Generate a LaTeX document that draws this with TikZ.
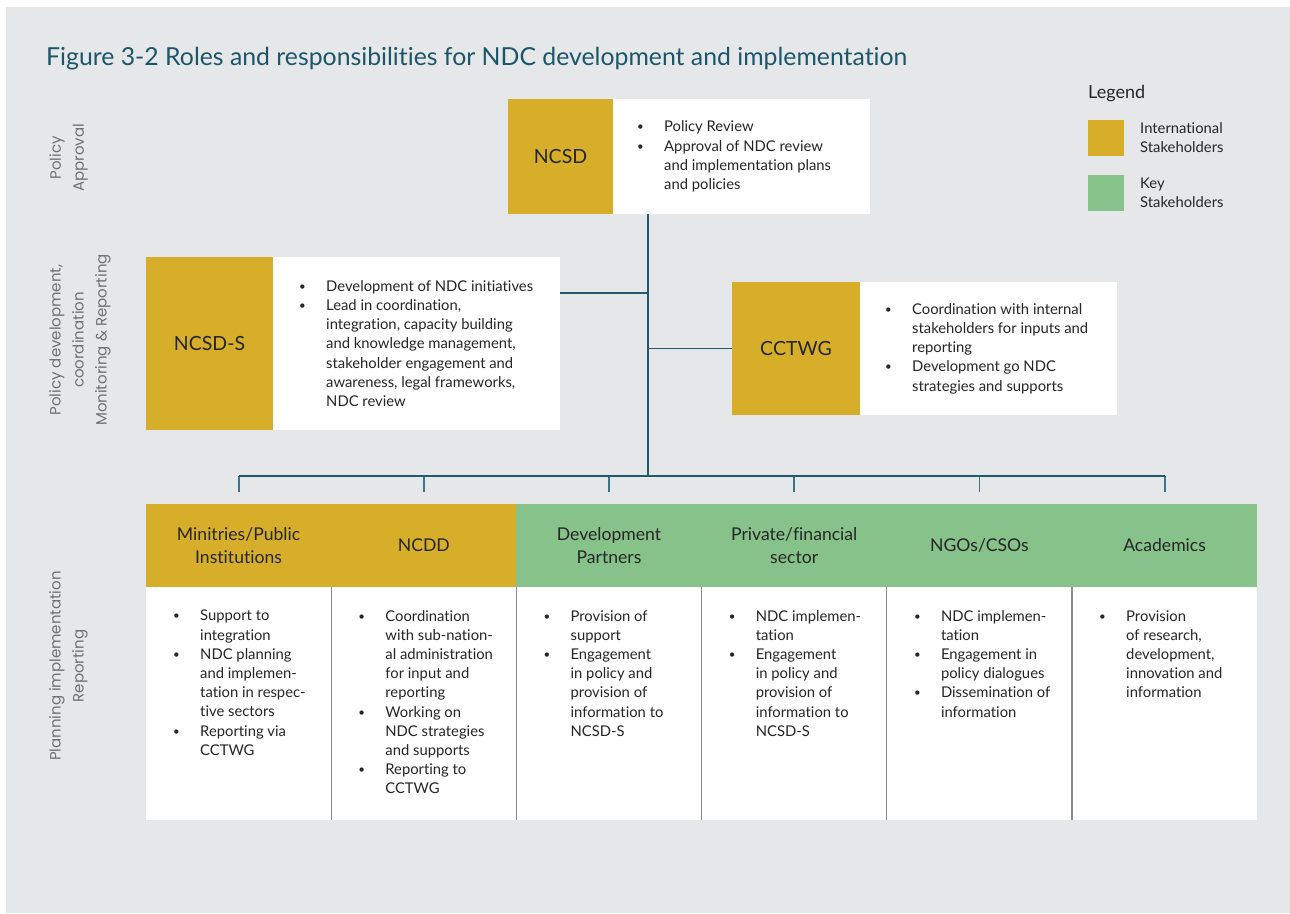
\documentclass[tikz,border=0pt]{standalone}
\usepackage{fontspec}
\setmainfont{Lato}[Ligatures=NoCommon]
\newfontfamily\sidefont{Poppins}
\usetikzlibrary{positioning,calc}

\definecolor{paper}{HTML}{E6E7E8}
\definecolor{intl}{HTML}{D7AE2A}
\definecolor{keyst}{HTML}{86C289}
\definecolor{linkcol}{HTML}{1F5A6D}
\definecolor{dropcol}{HTML}{3A7689}
\definecolor{titlecol}{HTML}{1C566A}
\definecolor{ink}{HTML}{262626}
\definecolor{sidegray}{HTML}{707174}
\definecolor{sepgray}{HTML}{8A8A8A}

\newcommand*{\bul}{\makebox[27pt][l]{\raisebox{1pt}{\fontsize{11.5}{11.5}\selectfont\textbullet}}}
\newcommand*{\cont}{\makebox[27pt][l]{}}

\begin{document}
\begin{tikzpicture}[x=1pt,y=-1pt,
		roleid/.style={fill=intl,text=ink,font=\fontsize{19.5}{22}\selectfont,inner sep=0pt,outer sep=0pt},
		roledesc/.style={fill=white,inner sep=0pt,outer sep=0pt},
		bullets/.style={align=left,text=ink,inner sep=0pt,font=\fontsize{14.8}{19.2}\selectfont},
		colhead/.style={anchor=north west,inner sep=0pt,outer sep=0pt,minimum width=\colW pt,minimum height=83pt,
			align=center,text=ink,font=\fontsize{17.6}{23}\selectfont},
		colbody/.style={fill=white,inner sep=0pt,outer sep=0pt,minimum width=\colW pt,minimum height=233pt},
		colsep/.style={sepgray,line width=1.2pt},
		link/.style={linkcol,line width=1.6pt},
		drop/.style={dropcol,line width=1.8pt},
		swatch/.style={inner sep=0pt,outer sep=0pt,minimum size=36pt},
		legendtext/.style={align=left,text=ink,inner sep=0pt,font=\fontsize{14.8}{19}\selectfont},
		sidelabel/.style={rotate=90,align=center,text=sidegray,inner sep=0pt,font=\sidefont\fontsize{15}{23}\selectfont},
	]

\def\colW{185.2}
\def\headY{504}

\useasboundingbox (0,0) rectangle (1290,913);
\fill[paper] (6,7) rectangle (1290,913);

\node[anchor=base west,text=titlecol,inner sep=0pt,font=\fontsize{24.8}{28}\selectfont] (title) at (46,65)
	{Figure 3-2 Roles and responsibilities for NDC development and implementation};

% side labels
\node[sidelabel] (policy-approval) at (68.5,158) {Policy\\Approval};
\node[sidelabel] (policy-dev) at (80,340) {Policy development,\\coordination\\Monitoring \& Reporting};
\node[sidelabel] (planning) at (68.5,666) {Planning implementation\\Reporting};

% legend
\node[anchor=base west,text=ink,inner sep=0pt,font=\fontsize{18}{20}\selectfont] (legend) at (1088,98) {Legend};
\node[swatch,fill=intl,anchor=north west] (legend-intl) at (1088,120) {};
\node[legendtext,right=16pt of legend-intl] (legend-intl-text) {International\\Stakeholders};
\node[swatch,fill=keyst,anchor=north west] (legend-key) at (1088,175) {};
\node[legendtext,right=16pt of legend-key] (legend-key-text) {Key\\Stakeholders};

% policy approval
\node[roleid,minimum width=105pt,minimum height=115pt,anchor=north west] (ncsd) at (508,99) {NCSD};
\node[roledesc,minimum width=257pt,minimum height=115pt,right=0pt of ncsd] (ncsd-desc) {};
\node[bullets,right=24pt of ncsd.east] (ncsd-list)
	{\bul Policy Review\\ \bul Approval of NDC review\\ \cont and implementation plans\\ \cont and policies};

% policy development
\node[roleid,minimum width=127pt,minimum height=173pt,anchor=north west] (ncsds) at (146,257) {NCSD-S};
\node[roledesc,minimum width=287pt,minimum height=173pt,right=0pt of ncsds] (ncsds-desc) {};
\node[bullets,right=26pt of ncsds.east] (ncsds-list)
	{\bul Development of NDC initiatives\\ \bul Lead in coordination,\\ \cont integration, capacity building\\
	 \cont and knowledge management,\\ \cont stakeholder engagement and\\ \cont awareness, legal frameworks,\\ \cont NDC review};

\node[roleid,minimum width=128pt,minimum height=133pt,anchor=north west] (cctwg) at (732,282) {CCTWG};
\node[roledesc,minimum width=257pt,minimum height=133pt,right=0pt of cctwg] (cctwg-desc) {};
\node[bullets,right=25pt of cctwg.east] (cctwg-list)
	{\bul Coordination with internal\\ \cont stakeholders for inputs and\\ \cont reporting\\
	 \bul Development go NDC\\ \cont strategies and supports};

\coordinate (hub) at (648,476);
\coordinate (ncsds-port) at ($(ncsds-desc.north east)+(0,36)$);
\draw[link] (ncsd-desc.south -| hub) -- (hub);
\draw[link] (ncsds-port) -- (ncsds-port -| hub);
\draw[link] (cctwg.west) -- (cctwg.west -| hub);

\newcommand*{\stakeholder}[5]{%
	% #1 = name, #2 = left edge, #3 = fill
	% #4 = header, #5 = duties
	\node[colhead,fill=#3] (#1) at (#2,\headY) {#4};
	\node[colbody,below=0pt of #1] (#1-body) {};
	\node[bullets,below right=23pt and 27pt of #1-body.north west] (#1-list) {#5};
	\draw[drop] (#1.north |- hub) -- ($(#1.north)+(0,-12)$);
}

% planning and implementation
\stakeholder{ministries}{146}{intl}{Minitries/Public\\Institutions}
	{\bul Support to\\ \cont integration\\ \bul NDC planning\\ \cont and implemen-\\ \cont tation in respec-\\
	 \cont tive sectors\\ \bul Reporting via\\ \cont CCTWG}
\stakeholder{ncdd}{146+\colW}{intl}{NCDD}
	{\bul Coordination\\ \cont with sub-nation-\\ \cont al administration\\ \cont for input and\\ \cont reporting\\
	 \bul Working on\\ \cont NDC strategies\\ \cont and supports\\ \bul Reporting to\\ \cont CCTWG}
\stakeholder{devpartners}{146+2*\colW}{keyst}{Development\\Partners}
	{\bul Provision of\\ \cont support\\ \bul Engagement\\ \cont in policy and\\ \cont provision of\\
	 \cont information to\\ \cont NCSD-S}
\stakeholder{private}{146+3*\colW}{keyst}{Private/financial\\sector}
	{\bul NDC implemen-\\ \cont tation\\ \bul Engagement\\ \cont in policy and\\ \cont provision of\\
	 \cont information to\\ \cont NCSD-S}
\stakeholder{ngos}{146+4*\colW}{keyst}{NGOs/CSOs}
	{\bul NDC implemen-\\ \cont tation\\ \bul Engagement in\\ \cont policy dialogues\\ \bul Dissemination of\\
	 \cont information}
\stakeholder{academics}{146+5*\colW}{keyst}{Academics}
	{\bul Provision\\ \cont of research,\\ \cont development,\\ \cont innovation and\\ \cont information}

\draw[link] (ministries.north |- hub) -- (academics.north |- hub);

\draw[colsep] (ncdd-body.north west) -- (ncdd-body.south west);
\draw[colsep] (devpartners-body.north west) -- (devpartners-body.south west);
\draw[colsep] (private-body.north west) -- (private-body.south west);
\draw[colsep] (ngos-body.north west) -- (ngos-body.south west);
\draw[colsep] (academics-body.north west) -- (academics-body.south west);

\end{tikzpicture}
\end{document}
